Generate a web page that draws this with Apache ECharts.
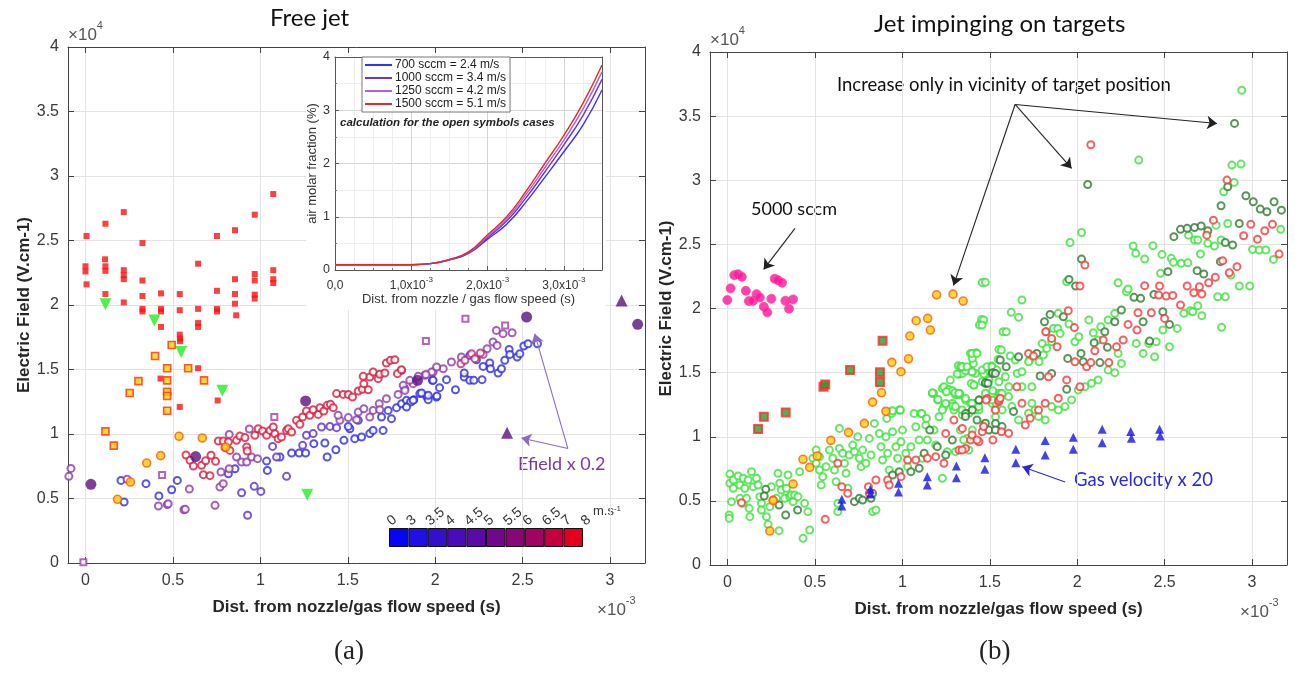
<!DOCTYPE html>
<html><head><meta charset="utf-8">
<script src="https://cdn.jsdelivr.net/npm/echarts@6/dist/echarts.min.js"></script>
<style>html,body{margin:0;padding:0;background:#fff}#c{width:1295px;height:673px}</style>
</head><body><div id="c"></div>
<script>
// ---------- tick labels ----------
const X_TICKS=[0,0.5,1,1.5,2,2.5,3];
const Y_TICKS=[0,0.5,1,1.5,2,2.5,3,3.5,4];
const CB_LABELS=['0','3','3.5','4','4.5','5','5.5','6','6.5','7','8'];
const CB_COLORS=['#0505fa','#2010e8','#3410cc','#4a0cb8','#5c0aa4','#70088c','#880676','#a00460','#c40040','#e4001c'];

// ---------- inset (air molar fraction) ----------
const INSET_X=[0,0.25,0.5,0.75,1,1.25,1.5,1.75,2,2.25,2.5,2.75,3,3.25,3.5];
const INSET_NAMES=['700 sccm = 2.4 m/s','1000 sccm = 3.4 m/s','1250 sccm = 4.2 m/s','1500 sccm = 5.1 m/s'];
const INSET_700=[0.1,0.1,0.1,0.1,0.1,0.12,0.19,0.31,0.58,0.86,1.27,1.74,2.22,2.72,3.38];
const INSET_1000=[0.1,0.1,0.1,0.1,0.1,0.12,0.19,0.32,0.61,0.92,1.35,1.84,2.35,2.9,3.58];
const INSET_1250=[0.1,0.1,0.1,0.1,0.1,0.12,0.2,0.33,0.63,0.96,1.41,1.92,2.44,3.02,3.72];
const INSET_1500=[0.1,0.1,0.1,0.1,0.1,0.12,0.2,0.34,0.66,1.0,1.47,2.0,2.53,3.13,3.85];

// ---------- (a) Free jet ----------
const L_RED_SQ=[[0.006,2.535],[0,2.30],[0,2.26],[0.006,2.16],[0.114,2.63],[0.112,2.354],[0.114,2.30],[0.114,2.265],[0.114,2.085],[0.219,2.72],[0.219,2.27],[0.219,2.23],[0.219,2.20],[0.219,2.02],[0.326,2.48],[0.326,2.19],[0.326,2.07],[0.326,1.97],[0.326,1.95],[0.432,2.09],[0.432,1.97],[0.432,1.95],[0.432,1.83],[0.539,2.085],[0.539,1.96],[0.539,1.77],[0.541,1.74],[0.541,1.72],[0.644,2.32],[0.644,1.97],[0.644,1.86],[0.644,1.83],[0.752,2.535],[0.752,2.11],[0.752,1.97],[0.752,1.95],[0.855,2.58],[0.855,2.20],[0.855,2.085],[0.855,2.01],[0.862,1.92],[0.968,2.70],[0.968,2.24],[0.968,2.19],[0.968,2.08],[0.968,2.05],[1.074,2.86],[1.074,2.27],[1.074,2.20],[1.074,2.17],[0.644,1.51],[0.429,1.43],[0.756,1.26],[0.539,1.21]];
const L_ORANGE_SQ=[[0.493,1.69],[0.398,1.605],[0.467,1.51],[0.587,1.51],[0.303,1.41],[0.467,1.416],[0.678,1.416],[0.253,1.318],[0.467,1.328],[0.467,1.295],[0.467,1.18],[0.114,1.02],[0.162,0.91]];
const L_ORANGE_CI=[[0.535,0.982],[0.668,0.969],[0.43,0.832],[0.35,0.775],[0.803,0.899],[0.257,0.628],[0.183,0.494]];
const L_GREEN_TRI=[[0.114,2.005],[0.394,1.88],[0.547,1.636],[0.783,1.336],[1.268,0.53]];
const L_PURPLE_CI=[[0.031,0.61],[0.63,0.825],[1.259,1.256],[1.899,1.416],[2.523,1.907],[3.158,1.85]];
const L_PURPLE_TRI=[[2.411,1.01],[3.066,2.035]];
const L_OPEN_SQ=[[2.173,1.894],[2.4,1.842],[1.947,1.721],[1.08,1.132],[0.438,0.682],[-0.012,0.005]];
const L_BLUE=[[0.346,0.615],[0.42,0.52],[0.493,0.568],[0.525,0.64],[0.817,0.692],[0.855,0.731],[1.036,0.79],[1.04,0.718],[1.112,0.822],[1.179,0.853],[1.222,0.853],[1.259,0.853],[1.306,0.925],[1.369,0.93],[1.382,0.822],[1.432,0.878],[1.478,0.951],[1.512,1.041],[1.54,0.964],[1.579,0.977],[1.626,1.003],[1.645,1.028],[1.702,1.028],[1.693,1.132],[1.75,1.119],[1.779,1.204],[1.808,1.235],[1.836,1.261],[1.859,1.248],[1.878,1.266],[1.912,1.313],[1.95,1.292],[1.984,1.416],[2.007,1.287],[1.731,1.183],[1.56,1.106],[1.503,1.059],[0.221,0.473],[0.203,0.64],[1.836,1.209],[1.874,1.261],[1.96,1.266],[1.96,1.3],[1.922,1.318],[2.01,1.294],[2.025,1.359],[1.988,1.416],[2.065,1.421],[2.116,1.343],[2.166,1.442],[2.166,1.473],[2.198,1.416],[2.221,1.416],[2.268,1.421],[2.274,1.524],[2.312,1.55],[2.316,1.506],[2.36,1.473],[2.379,1.506],[2.398,1.571],[2.423,1.656],[2.427,1.617],[2.469,1.597],[2.484,1.623],[2.507,1.682],[2.531,1.7],[2.585,1.7],[2.198,1.61],[2.236,1.576]];
const L_VIOLET=[[1.15,0.672],[0.893,0.545],[0.965,0.594],[1.003,0.555],[0.927,0.37],[1.093,0.822],[1.07,0.904],[1.242,0.912],[1.264,0.99],[1.302,1.003],[1.35,1.054],[1.398,1.059],[1.436,1.049]];
const L_PURPLE=[[0.417,0.442],[0.468,0.452],[0.563,0.413],[0.594,0.574],[0.741,0.447],[0.769,0.589],[0.788,0.615],[0.775,0.705],[0.822,0.731],[0.864,0.822],[0.893,0.783],[0.922,0.783],[0.95,0.822],[0.984,0.809],[1.455,1.106],[1.503,1.127],[1.56,1.17],[1.592,1.196],[1.645,1.183],[1.68,1.235],[1.721,1.274],[1.788,1.307],[1.826,1.351],[1.874,1.39],[1.941,1.455],[1.988,1.481],[1.683,1.188],[1.55,1.111],[1.626,1.132],[1.445,1.145],[0.822,0.997],[0.937,1.039],[-0.095,0.672],[-0.083,0.733],[0.238,0.649],[0.473,0.46],[0.571,0.416],[2.35,1.803],[2.388,1.778],[2.44,1.785],[2.331,1.713],[2.354,1.687],[2.297,1.661],[2.274,1.617],[2.15,1.597],[2.093,1.558],[2.046,1.506],[2.008,1.519],[1.979,1.48],[1.947,1.462],[1.903,1.447],[1.855,1.416],[1.817,1.377],[1.827,1.338]];
const L_RED=[[0.575,0.837],[0.598,0.796],[0.617,0.752],[0.664,0.757],[0.674,0.685],[0.712,0.677],[0.687,0.793],[0.718,0.835],[0.744,0.788],[0.76,0.946],[0.788,0.946],[0.817,0.938],[0.798,0.894],[0.826,0.873],[0.864,0.951],[0.883,0.984],[0.912,0.972],[0.922,0.899],[0.925,0.868],[0.969,0.99],[0.988,1.041],[1.013,1.023],[1.036,0.99],[1.055,1.028],[1.074,1.054],[1.083,1.002],[1.102,0.964],[1.121,0.977],[1.15,1.028],[1.16,1.041],[1.179,1.015],[1.207,1.106],[1.226,1.075],[1.242,1.132],[1.264,1.178],[1.283,1.145],[1.302,1.188],[1.331,1.152],[1.341,1.204],[1.363,1.178],[1.382,1.222],[1.401,1.23],[1.417,1.204],[1.436,1.313],[1.474,1.307],[1.503,1.307],[1.527,1.287],[1.56,1.333],[1.584,1.346],[1.617,1.343],[1.592,1.39],[1.626,1.442],[1.645,1.481],[1.674,1.429],[1.683,1.463],[1.712,1.473],[1.721,1.55],[1.744,1.571],[1.769,1.576],[1.784,1.468],[1.807,1.498],[1.588,1.447]];
const L_MAGENTA=[[2.259,1.628],[2.208,1.623],[2.227,1.584],[2.147,1.545],[2.17,1.571],[1.808,1.493]];

// ---------- (b) Jet impinging on targets ----------
const R_MAGENTA=[[-0.001,2.066],[0.018,2.157],[0.039,2.26],[0.061,2.268],[0.082,2.247],[0.105,2.138],[0.122,2.058],[0.147,2.06],[0.166,2.112],[0.185,2.086],[0.208,2.014],[0.228,1.97],[0.251,2.076],[0.27,2.232],[0.289,2.221],[0.312,2.201],[0.331,2.06],[0.352,1.998],[0.375,2.071]];
const R_ORANGE_CI=[[1.196,2.107],[1.29,2.112],[1.348,2.058],[1.079,1.905],[1.145,1.923],[1.16,1.832],[1.043,1.785],[1.035,1.608],[0.94,1.58],[0.992,1.507],[0.881,1.343],[0.83,1.27],[0.906,1.198],[0.783,1.104],[0.692,1.034],[0.591,0.972],[0.432,0.824],[0.47,0.761],[0.513,0.85],[0.375,0.631],[0.261,0.502],[0.242,0.265]];
const R_GREEN_SQ=[[0.175,1.06],[0.208,1.156],[0.333,1.19],[0.549,1.39],[0.559,1.408],[0.701,1.52],[0.872,1.426],[0.872,1.502],[0.887,1.749]];
const R_BLUE_TRI=[[0.654,0.512],[0.654,0.46],[0.817,0.59],[0.817,0.553],[0.978,0.637],[0.978,0.569],[1.143,0.689],[1.143,0.624],[1.309,0.772],[1.309,0.681],[1.472,0.837],[1.472,0.746],[1.649,0.902],[1.649,0.798],[1.817,0.97],[1.817,0.858],[1.978,0.996],[1.978,0.902],[2.143,1.058],[2.143,0.954],[2.306,1.04],[2.31,0.988],[2.471,1.058],[2.475,1.006]];
const R_LGREEN=[[0.014,0.709],[0.014,0.637],[0.01,0.39],[0.01,0.364],[0.033,0.663],[0.033,0.598],[0.023,0.494],[0.061,0.694],[0.071,0.624],[0.09,0.676],[0.09,0.481],[0.099,0.598],[0.118,0.663],[0.124,0.442],[0.128,0.377],[0.137,0.728],[0.147,0.611],[0.166,0.676],[0.175,0.624],[0.185,0.533],[0.194,0.481],[0.223,0.377],[0.232,0.317],[0.242,0.455],[0.251,0.611],[0.289,0.715],[0.299,0.637],[0.308,0.585],[0.327,0.52],[0.337,0.598],[0.346,0.702],[0.356,0.533],[0.365,0.546],[0.375,0.494],[0.384,0.546],[0.403,0.533],[0.413,0.728],[0.441,0.481],[0.46,0.416],[0.47,0.273],[0.432,0.208],[0.295,0.268],[0.28,0.52],[0.071,0.52],[0.109,0.52],[0.194,0.429],
[0.488,0.832],[0.507,0.793],[0.526,0.845],[0.507,0.896],[0.526,0.741],[0.545,0.689],[0.536,0.624],[0.564,0.767],[0.583,0.896],[0.602,0.832],[0.612,0.741],[0.621,0.65],[0.631,0.481],[0.631,0.416],[0.64,1.065],[0.64,0.909],[0.659,0.871],[0.669,0.793],[0.678,0.715],[0.688,0.598],[0.697,0.858],[0.716,0.935],[0.726,0.884],[0.745,1.0],[0.754,0.832],[0.764,0.767],[0.773,0.896],[0.792,0.793],[0.811,0.987],[0.821,0.858],[0.83,0.416],[0.849,0.429],[0.84,1.104],[0.868,1.026],[0.878,0.923],[0.887,0.819],[0.906,1.0],[0.916,0.871],[0.925,0.741],[0.935,1.195],[0.944,1.039],[0.963,0.923],[0.973,0.832],[0.982,1.208],[0.992,0.961],[1.001,1.052],[1.02,0.871],[1.03,0.767],[1.049,0.923],[1.067,1.182],[1.077,1.078],[1.096,0.974],[1.105,1.182],[1.115,0.832],[1.134,1.091],[1.143,0.974],[1.172,1.338],[1.181,1.052],[1.191,0.935],[1.21,1.156],[1.229,1.377],[1.229,0.676],[1.238,1.234],[1.248,1.364],[1.257,0.884],[1.286,1.26],[1.295,1.208],[1.305,1.325],[1.324,1.338],[1.343,1.169],[1.362,1.286],[1.371,0.987],[1.4,1.052],[1.409,1.403],[1.419,1.26],[1.438,1.208],[1.466,1.091],[1.495,1.442],[1.514,1.26],[1.533,1.156],[1.552,1.338],[1.571,1.208],[1.324,1.489],[1.343,1.494],
[1.406,1.572],[1.418,1.494],[1.394,1.416],[1.341,1.546],[1.274,1.442],[1.322,1.325],[1.179,1.338],[1.203,1.286],[0.987,1.208],[0.94,1.182],[0.911,1.143],[1.489,1.494],[1.513,1.338],[1.537,1.26],[1.609,1.39],[1.657,1.494],[1.728,1.598],[1.8,1.728],[1.824,1.818],[1.457,2.203],[1.453,1.915],[1.441,1.871],[1.576,1.819],[1.552,1.681],[1.39,1.65],[1.422,1.655],[1.4,1.611],[1.32,1.554],[1.362,1.515],[1.314,1.489],[1.333,1.546],[1.4,1.507],[1.466,1.489],[1.51,1.551],[1.548,1.603],[1.552,1.429],[1.409,1.403],[1.457,1.429],[1.238,1.39],[1.267,1.369],[1.286,1.359],[1.252,1.351],[1.301,1.343],[1.327,1.338],[1.172,1.343],[1.204,1.291],[1.248,1.26],[1.289,1.239],[1.362,1.299],[1.39,1.26],[1.415,1.208],[1.517,1.359],[1.561,1.338],[0.944,1.203],[0.988,1.208],[1.111,1.182],[1.138,1.143],[1.229,1.208],
[1.475,2.204],[1.465,1.91],[1.456,1.871],[1.684,2.066],[1.623,1.97],[1.665,1.931],[1.594,1.819],[1.566,1.676],[1.399,1.65],[1.427,1.65],[1.342,1.546],[1.37,1.546],[1.399,1.507],[1.456,1.52],[1.484,1.546],[1.513,1.546],[1.541,1.52],[1.589,1.468],[1.617,1.63],[1.646,1.598],[1.684,1.507],[1.684,1.39],[1.722,1.585],[1.741,1.39],[1.782,1.585],[1.807,1.637],[1.826,1.689],[1.854,1.741],[1.864,1.845],[1.889,1.845],[1.902,1.806],[1.892,1.962],[1.959,2.515],[2.025,2.593],[1.94,2.209],[1.953,1.879],[1.987,1.741],[2.01,1.78],[2.067,1.91],[2.092,1.811],[2.135,1.858],[2.177,1.91],[2.215,1.962],[2.234,2.201],[2.282,2.131],[2.291,2.152],[2.32,2.487],[2.335,2.43],[2.386,2.385],[2.433,2.49],[2.477,2.274],[2.485,2.422],[2.538,2.391],[2.551,2.36],[2.595,2.352],[2.633,2.357],[2.648,1.983],[2.661,1.975],[2.61,1.962],[2.69,2.022],[2.713,1.944],[2.705,2.425],[2.671,2.534],[2.69,2.534],[2.747,2.508],[2.785,2.487],[2.804,2.092],[2.847,2.092],[2.826,1.853],[2.927,2.175],[2.987,2.175],[2.861,2.663],[2.823,2.534],[2.879,2.261],[2.838,2.91],[2.898,2.983],[2.885,3.118],[2.937,3.126],[2.794,2.65],[2.637,2.572],[3.003,2.461],[3.041,2.456],[3.079,2.456],[3.122,2.383],[3.164,2.617],[2.352,3.157],[2.12,1.754],[2.234,1.65],[2.253,1.572],[2.338,1.728],[2.377,1.65],[2.409,1.728],[2.443,1.624],[2.452,1.741],[2.528,1.702],[2.49,1.832],[2.572,1.845],[2.177,1.52],[2.215,1.5],[2.12,1.443],[2.082,1.417],[2.044,1.39],[2.006,1.364],[1.968,1.287],[1.93,1.235],[1.892,1.209],[1.854,1.235],[1.817,1.131],[1.779,1.157],[1.759,1.209],[1.741,1.261],[1.722,1.183],[1.665,1.131],[1.627,1.235],[1.608,1.313],[1.57,1.339],[1.513,1.287],[1.475,1.339],[1.437,1.235],[1.399,1.261],[1.38,1.183],[1.342,1.209],[1.323,1.339],[1.304,1.235],[1.351,0.975],[1.38,0.897],[1.304,0.884],[1.332,1.053],[2.941,3.702]];
const R_DGREEN=[[0.219,0.59],[0.21,0.538],[0.295,0.468],[0.333,0.39],[0.401,0.429],[0.726,0.494],[0.754,0.52],[0.773,0.507],[0.821,0.52],[0.83,0.559],[0.944,0.702],[0.982,0.728],[1.049,0.728],[1.096,0.754],[1.125,0.871],[1.157,1.052],[1.2,0.923],[1.248,0.858],[1.286,0.974],[1.362,1.182],[1.4,1.208],[1.441,1.286],[1.476,1.416],[1.514,1.494],[1.533,1.104],[1.495,1.052],[1.517,1.5],[1.476,1.421],[1.438,1.286],[2.06,2.967],[2.025,2.385],[1.991,2.175],[1.953,2.227],[1.845,1.954],[1.813,1.897],[1.921,1.936],[2.022,1.65],[2.097,1.733],[2.173,1.697],[2.158,1.819],[2.215,1.897],[2.253,1.988],[2.325,2.087],[2.363,2.079],[2.439,2.11],[2.519,2.287],[2.49,1.975],[2.528,1.876],[2.414,1.746],[2.377,1.897],[2.553,2.56],[2.591,2.617],[2.629,2.625],[2.671,2.632],[2.709,2.643],[2.747,2.606],[2.686,2.295],[2.724,2.269],[2.819,2.365],[2.847,2.515],[2.889,2.495],[2.823,2.801],[2.861,2.949],[2.965,2.879],[3.007,2.832],[3.047,2.775],[3.085,2.754],[3.126,2.832],[3.168,2.767],[2.927,2.663],[1.946,1.611],[1.854,1.494],[1.788,1.474],[1.769,1.65],[1.665,1.624],[1.594,1.546],[1.56,1.598],[1.532,1.494],[1.49,1.417],[1.636,1.196],[1.57,1.079],[1.532,1.053],[1.475,1.105],[1.427,1.131],[1.361,1.157],[1.94,1.37],[2.035,1.585],[2.13,1.578],[2.9,3.443]];
const R_RED=[[0.08,0.486],[0.261,0.507],[0.559,0.356],[0.631,0.793],[0.654,0.611],[0.688,0.559],[0.806,0.611],[0.811,0.559],[0.849,0.663],[0.916,0.663],[0.925,0.624],[0.992,0.689],[1.03,0.819],[1.077,0.819],[1.143,0.832],[1.191,0.845],[1.238,0.793],[1.248,1.026],[1.295,1.13],[1.324,0.896],[1.343,1.065],[1.362,0.909],[1.39,0.974],[1.438,0.961],[1.457,1.039],[1.485,1.299],[1.518,0.974],[1.552,1.273],[1.567,1.039],[1.479,1.286],[1.552,1.286],[2.078,3.277],[2.044,2.339],[2.016,2.175],[1.949,1.983],[1.984,1.851],[1.82,1.819],[1.854,1.767],[1.885,1.702],[1.722,1.65],[1.75,1.63],[1.987,1.585],[2.054,1.546],[2.078,1.578],[2.101,1.671],[2.149,1.754],[2.181,1.578],[2.225,1.702],[2.263,1.754],[2.291,1.876],[2.342,1.832],[2.348,1.967],[2.386,2.178],[2.424,1.967],[2.471,2.175],[2.5,1.923],[2.466,2.105],[2.509,2.097],[2.547,2.102],[2.591,2.027],[2.629,2.175],[2.667,2.123],[2.713,2.113],[2.699,2.17],[2.752,2.201],[2.79,2.243],[2.87,2.279],[2.914,2.326],[2.832,2.373],[2.779,2.689],[2.741,2.572],[2.857,3.001],[2.952,2.567],[2.993,2.656],[3.031,2.539],[3.073,2.606],[3.117,2.656],[3.155,2.424],[1.94,1.443],[1.892,1.3],[2.016,1.39],[1.836,1.468],[1.684,1.261],[1.655,1.39],[1.532,1.209],[1.56,1.3],[1.465,1.079],[1.399,1.014],[1.427,0.975],[1.342,0.897],[1.608,1.027],[1.703,1.092],[1.779,1.209],[1.731,1.144],[1.817,1.261]];

// annotation arrows (data coordinates)
const ARROWS_A=[[[2.759,0.887],[2.569,1.778]],[[2.759,0.887],[2.493,0.969]]];
const ARROWS_B_BLACK=[[[1.645,3.591],[1.293,2.18]],[[1.645,3.591],[1.968,3.092]],[[1.645,3.591],[2.8,3.443]],[[0.386,2.625],[0.207,2.305]]];
const ARROWS_B_BLUE=[[[1.931,0.647],[1.686,0.766]]];

// ---------- build ----------
const SANS="'Liberation Sans', Arial, sans-serif";
const CAL="Lato, 'Open Sans', sans-serif";
const TICKC='#3a3a3a';

function mainX(gi, pos, labels){
  const a={gridIndex:gi,type:'value',position:pos,min:-0.1,max:3.2,interval:0.5,
    axisLine:{show:true,onZero:false,lineStyle:{color:'#444',width:1}},
    axisTick:{show:true,inside:true,length:6,customValues:X_TICKS,lineStyle:{color:'#444'}},
    axisLabel:{show:labels,customValues:X_TICKS,fontSize:16,fontFamily:SANS,color:TICKC,margin:10,formatter:v=>String(v)},
    splitLine:{show:labels,lineStyle:{color:'#e3e3e3',width:1}}};
  if(labels){a.name='Dist. from nozzle/gas flow speed (s)';a.nameLocation='middle';a.nameGap=36;
    a.nameTextStyle={fontSize:17,fontWeight:'bold',fontFamily:SANS,color:'#262626'};}
  return a;
}
function mainY(gi,pos,labels,gap){
  const a={gridIndex:gi,type:'value',position:pos,min:0,max:4,interval:0.5,
    axisLine:{show:true,onZero:false,lineStyle:{color:'#444',width:1}},
    axisTick:{show:true,inside:true,length:6,lineStyle:{color:'#444'}},
    axisLabel:{show:labels,fontSize:16,fontFamily:SANS,color:TICKC,margin:9},
    splitLine:{show:labels,lineStyle:{color:'#e3e3e3',width:1}}};
  if(labels){a.name='Electric Field (V.cm-1)';a.nameLocation='middle';a.nameGap=gap;
    a.nameTextStyle={fontSize:17,fontWeight:'bold',fontFamily:SANS,color:'#262626'};}
  return a;
}
function sc(name,data,xi,symbol,size,style,extra){
  return Object.assign({type:'scatter',name:name,xAxisIndex:xi,yAxisIndex:xi,data:data,symbol:symbol,symbolSize:size,itemStyle:style,silent:true,z:2},extra||{});
}
const open=(c,w)=>({color:c,borderColor:c,borderWidth:w||1.4});
function arrows(xi,list,color){
  return {type:'scatter',xAxisIndex:xi,yAxisIndex:xi,data:[],silent:true,z:5,
    markLine:{silent:true,animation:false,symbol:['none','arrow'],symbolSize:10,label:{show:false},
      lineStyle:{color:color,width:1.1,type:'solid'},itemStyle:{color:color},
      data:list.map(p=>[{coord:p[0]},{coord:p[1]}])}};
}
const zip=ys=>INSET_X.map((x,i)=>[x,ys[i]]);

const sup={fontSize:11,lineHeight:11,verticalAlign:'top',fontFamily:SANS,fill:'#555'};
const xten={fontSize:17,lineHeight:24,fontFamily:SANS,fill:'#555',verticalAlign:'bottom'};
const option={
  animation:false,
  backgroundColor:'#fff',
  grid:[
    {left:68,top:47,width:577,height:516},
    {left:710,top:52,width:577,height:513},
    {left:335,top:57,width:267,height:213},
    {left:389,top:528,width:194,height:19}
  ],
  xAxis:[
    mainX(0,'bottom',true), mainX(0,'top',false),
    mainX(1,'bottom',true), mainX(1,'top',false),
    {gridIndex:2,type:'value',min:0,max:3.5,interval:1,z:3,position:'bottom',
      axisLine:{onZero:false,lineStyle:{color:'#555'}},axisTick:{inside:true,length:4,lineStyle:{color:'#555'}},
      minorTick:{show:true,splitNumber:4,length:2,lineStyle:{color:'#777'}},
      axisLabel:{fontSize:12,fontFamily:SANS,color:'#333',margin:6,showMaxLabel:false,
        formatter:v=>v===0?'{a|0,0}':(Number.isInteger(v)?'{a|'+v+',0x10}{s|-3}':''),
        rich:{a:{fontSize:12,lineHeight:16,fontFamily:SANS,color:'#333',verticalAlign:'bottom'},s:{fontSize:8,lineHeight:8,verticalAlign:'top',fontFamily:SANS,color:'#333'}}},
      splitLine:{show:true,lineStyle:{color:'#d5d5d5'}},minorSplitLine:{show:true,lineStyle:{color:'#eeeeee'}},
      name:'Dist. from nozzle / gas flow speed (s)',nameLocation:'middle',nameGap:22,
      nameTextStyle:{fontSize:13,fontFamily:SANS,color:'#333'}},
    {gridIndex:2,type:'value',min:0,max:3.5,interval:1,z:3,position:'top',
      axisLine:{onZero:false,lineStyle:{color:'#555'}},axisTick:{show:false},axisLabel:{show:false},splitLine:{show:false}},
    {gridIndex:3,type:'value',min:0,max:10,interval:1,position:'top',
      axisLine:{show:false},axisTick:{show:false},splitLine:{show:false},
      axisLabel:{rotate:40,margin:5,fontSize:14,fontFamily:SANS,color:'#333',formatter:v=>CB_LABELS[v]}}
  ],
  yAxis:[
    mainY(0,'left',true,28), mainY(0,'right',false),
    mainY(1,'left',true,34), mainY(1,'right',false),
    {gridIndex:2,type:'value',min:0,max:4,interval:1,z:3,position:'left',
      axisLine:{show:true,onZero:false,lineStyle:{color:'#555'}},axisTick:{show:true,inside:true,length:4,lineStyle:{color:'#555'}},
      minorTick:{show:true,splitNumber:2,length:2,lineStyle:{color:'#777'}},
      axisLabel:{fontSize:12.5,fontFamily:SANS,color:'#333',margin:5},
      splitLine:{show:true,lineStyle:{color:'#d5d5d5'}},minorSplitLine:{show:true,lineStyle:{color:'#eeeeee'}},
      name:'air molar fraction (%)',nameLocation:'middle',nameGap:14,
      nameTextStyle:{fontSize:13,fontFamily:SANS,color:'#333'}},
    {gridIndex:2,type:'value',min:0,max:4,interval:1,z:3,position:'right',
      axisLine:{show:true,onZero:false,lineStyle:{color:'#555'}},axisTick:{show:false},axisLabel:{show:false},splitLine:{show:false}},
    {gridIndex:3,type:'value',min:0,max:1,show:false}
  ],
  legend:{data:INSET_NAMES,left:362,top:57,orient:'vertical',icon:'rect',itemWidth:27,itemHeight:2,itemGap:1,
    selectedMode:false,backgroundColor:'#fff',borderColor:'#777',borderWidth:1,padding:[2,4,2,3],z:6,
    textStyle:{fontSize:12,fontFamily:SANS,color:'#222',padding:[0,0,0,-2]}},
  series:[
    ...[INSET_700,INSET_1000,INSET_1250,INSET_1500].map((d,i)=>({type:'line',name:INSET_NAMES[i],xAxisIndex:4,yAxisIndex:4,
      data:zip(d),smooth:true,showSymbol:false,z:4,silent:true,
      lineStyle:{width:1.4,color:['#3333ff','#7030d8','#b060e0','#e82828'][i]},itemStyle:{color:['#3333ff','#7030d8','#b060e0','#e82828'][i]}})),
    {type:'bar',xAxisIndex:6,yAxisIndex:6,barWidth:19.4,silent:true,
      data:CB_COLORS.map((c,i)=>({value:[i+0.5,1],itemStyle:{color:c,borderColor:'#111',borderWidth:1}}))},
    sc('blue',L_BLUE,0,'emptyCircle',7,open('#2a2ae0')),
    sc('violet',L_VIOLET,0,'emptyCircle',7,open('#5a2ec8')),
    sc('purple',L_PURPLE,0,'emptyCircle',7,open('#8c3aa6')),
    sc('magenta',L_MAGENTA,0,'emptyCircle',7,open('#b02c78')),
    sc('red',L_RED,0,'emptyCircle',7,open('#d41c3c')),
    sc('opensq',L_OPEN_SQ,0,'emptyRect',6,open('#a040a8',1.3)),
    sc('redsq',L_RED_SQ,0,'rect',6,{color:'#ff1010'}),
    sc('orsq',L_ORANGE_SQ,0,'rect',7,{color:'#ffd000',borderColor:'#ff3010',borderWidth:1.6}),
    sc('orci',L_ORANGE_CI,0,'circle',8,{color:'#ffc800',borderColor:'#ff5a10',borderWidth:1.6}),
    sc('gtri',L_GREEN_TRI,0,'triangle',12,{color:'#22ee22'},{symbolRotate:180}),
    sc('pci',L_PURPLE_CI,0,'circle',11,{color:'#5c1080'}),
    sc('ptri',L_PURPLE_TRI,0,'triangle',12,{color:'#5c1080'}),
    arrows(0,ARROWS_A,'#8a6cc0'),
    sc('lg',R_LGREEN,2,'emptyCircle',7,open('#3ee03e',1.3)),
    sc('dg',R_DGREEN,2,'emptyCircle',7,open('#2f7a2f',1.3)),
    sc('rr',R_RED,2,'emptyCircle',7,open('#f03a3a',1.3)),
    sc('gsq',R_GREEN_SQ,2,'rect',8,{color:'#2a9a2a',borderColor:'#ff2a2a',borderWidth:2}),
    sc('oc',R_ORANGE_CI,2,'circle',8,{color:'#ffd000',borderColor:'#ff5a20',borderWidth:1.6}),
    sc('mg',R_MAGENTA,2,'circle',9,{color:'#ff10a8',borderColor:'#ff5080',borderWidth:1}),
    sc('bt',R_BLUE_TRI,2,'triangle',9,{color:'#1414e6'}),
    arrows(2,ARROWS_B_BLACK,'#222'),
    arrows(2,ARROWS_B_BLUE,'#2a2ad0')
  ],
  graphic:[
    {type:'rect',shape:{x:306,y:53,width:300,height:257},style:{fill:'#fff'},z:1,silent:true},
    {type:'text',left:340,top:117,z:6,style:{text:'calculation for the open symbols cases',font:"italic bold 11.5px 'Liberation Sans', Arial",fill:'#222'}},
    {type:'text',left:270,top:6,style:{text:'Free jet',font:"24px "+CAL,fill:'#111'}},
    {type:'text',left:874,top:12,style:{text:'Jet impinging on targets',font:"24px "+CAL,fill:'#111'}},
    {type:'text',left:68,top:20,style:{text:'{x|×10}{s|4}',rich:{x:xten,s:sup}}},
    {type:'text',left:710,top:25,style:{text:'{x|×10}{s|4}',rich:{x:xten,s:sup}}},
    {type:'text',left:597,top:595,style:{text:'{x|×10}{s|-3}',rich:{x:xten,s:sup}}},
    {type:'text',left:1240,top:597,style:{text:'{x|×10}{s|-3}',rich:{x:xten,s:sup}}},
    {type:'text',left:593,top:505,style:{text:'{x|m.s}{s|-1}',rich:{x:{fontSize:13,fontFamily:SANS,fill:'#333',verticalAlign:'bottom'},s:{fontSize:8,verticalAlign:'top',fontFamily:SANS,fill:'#333'}}}},
    {type:'text',left:518,top:455,style:{text:'Efield x 0.2',font:"18px "+CAL,fill:'#7a3aa8'}},
    {type:'text',left:837,top:76,style:{text:'Increase only in vicinity of target position',font:"18.5px "+CAL,fill:'#111'}},
    {type:'text',left:751,top:200,style:{text:'5000 sccm',font:"18px "+CAL,fill:'#111'}},
    {type:'text',left:1074,top:471,style:{text:'Gas velocity x 20',font:"18.5px "+CAL,fill:'#2a2ad8'}},
    {type:'text',left:334,top:638,style:{text:'(a)',font:"27px 'Liberation Serif', 'DejaVu Serif', serif",fill:'#222'}},
    {type:'text',left:979,top:638,style:{text:'(b)',font:"27px 'Liberation Serif', 'DejaVu Serif', serif",fill:'#222'}}
  ]
};
const chart=echarts.init(document.getElementById('c'),null,{renderer:'canvas'});
chart.setOption(option);
</script></body></html>
